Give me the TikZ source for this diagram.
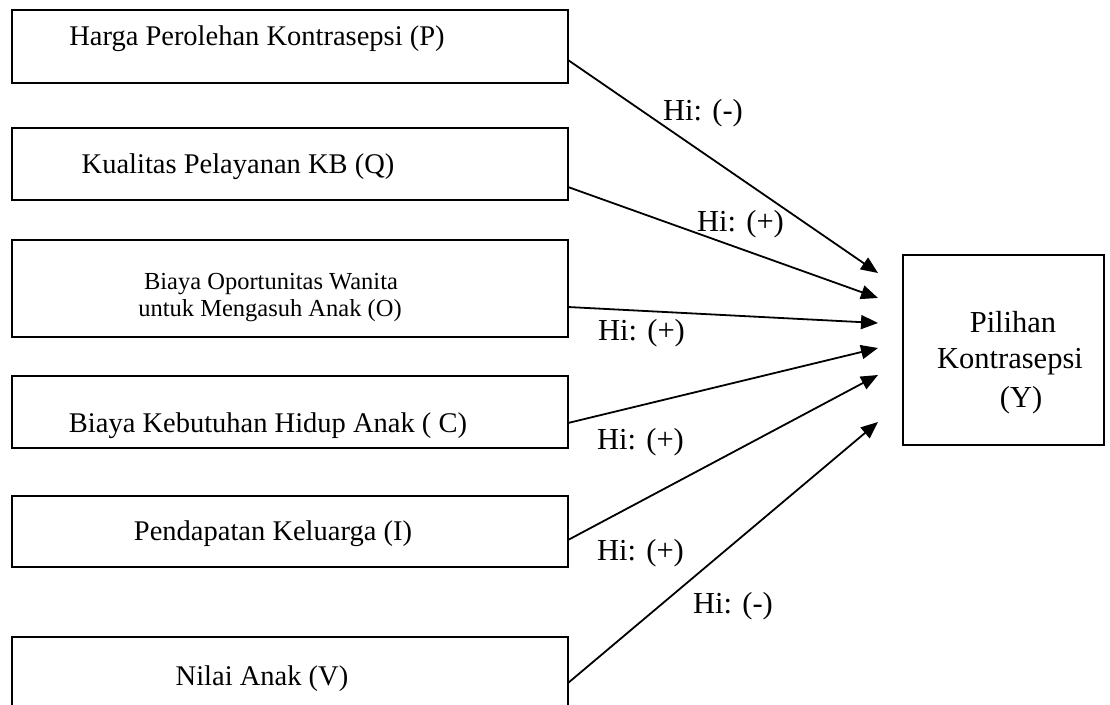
\documentclass[tikz,border=0pt]{standalone}
\usepackage{fontspec}
\setmainfont{Liberation Serif}
\usetikzlibrary{arrows.meta,calc}
\begin{document}
\begin{tikzpicture}[x=1pt,y=-1pt,
  box/.style={draw,line width=2pt,rectangle,inner sep=0pt,outer sep=0pt,anchor=north west},
  btext/.style={font=\fontsize{28.5}{34}\selectfont,anchor=base,inner sep=0pt},
  stext/.style={font=\fontsize{24.5}{27}\selectfont,anchor=base,inner sep=0pt},
  ytext/.style={font=\fontsize{30.5}{36}\selectfont,anchor=base,inner sep=0pt},
  lab/.style={font=\fontsize{30.5}{36}\selectfont,anchor=base west,inner sep=0pt},
  arr/.style={line width=1.8pt,-{Triangle[length=17pt,width=14pt]}}]
\clip (0,0) rectangle (1110,704);
\fill[white] (0,0) rectangle (1110,704);
% boxes
\node[box,minimum width=556pt,minimum height=73pt] (p) at (12,10) {};
\node[box,minimum width=556pt,minimum height=72pt] (q) at (12,128) {};
\node[box,minimum width=556pt,minimum height=97pt] (o) at (12,240) {};
\node[box,minimum width=556pt,minimum height=72pt] (c) at (12,376) {};
\node[box,minimum width=556pt,minimum height=71pt] (i) at (12,496) {};
\node[box,minimum width=556pt,minimum height=85pt] (v) at (12,637) {};
\node[box,minimum width=201pt,minimum height=190pt] (y) at (903,255) {};
% box texts
\node[btext] (pt) at (257,45) {Harga Perolehan Kontrasepsi (P)};
\node[btext] (qt) at (238,173) {Kualitas Pelayanan KB (Q)};
\node[stext] (ot1) at (271,289) {Biaya Oportunitas Wanita};
\node[stext] (ot2) at (270,316) {untuk Mengasuh Anak (O)};
\node[btext] (ct) at (268,432) {Biaya Kebutuhan Hidup Anak ( C)};
\node[btext] (it) at (273,540) {Pendapatan Keluarga (I)};
\node[btext] (vt) at (262,685) {Nilai Anak (V)};
\node[ytext] (yt1) at (1013,332) {Pilihan};
\node[ytext] (yt2) at (1010,368) {Kontrasepsi};
\node[ytext] (yt3) at (1021,407) {(Y)};
% arrow tips
\coordinate (t1) at (878,273);
\coordinate (t2) at (878,298);
\coordinate (t3) at (878,323);
\coordinate (t4) at (878,348);
\coordinate (t5) at (878,375);
\coordinate (t6) at (878,422);
% arrows
\draw[arr] ([yshift=-50pt]p.north east) -- (t1);
\draw[arr] ([yshift=-59pt]q.north east) -- (t2);
\draw[arr] ([yshift=-67pt]o.north east) -- (t3);
\draw[arr] ([yshift=-47pt]c.north east) -- (t4);
\draw[arr] ([yshift=-44pt]i.north east) -- (t5);
\draw[arr] ([yshift=-46pt]v.north east) -- (t6);
% labels
\node[lab] (l1) at (663,120) {Hi: (-)};
\node[lab] (l2) at (697,231) {Hi: (+)};
\node[lab] (l3) at (598,340) {Hi: (+)};
\node[lab] (l4) at (597,449) {Hi: (+)};
\node[lab] (l5) at (597,560) {Hi: (+)};
\node[lab] (l6) at (693,613) {Hi: (-)};
\end{tikzpicture}
\end{document}
